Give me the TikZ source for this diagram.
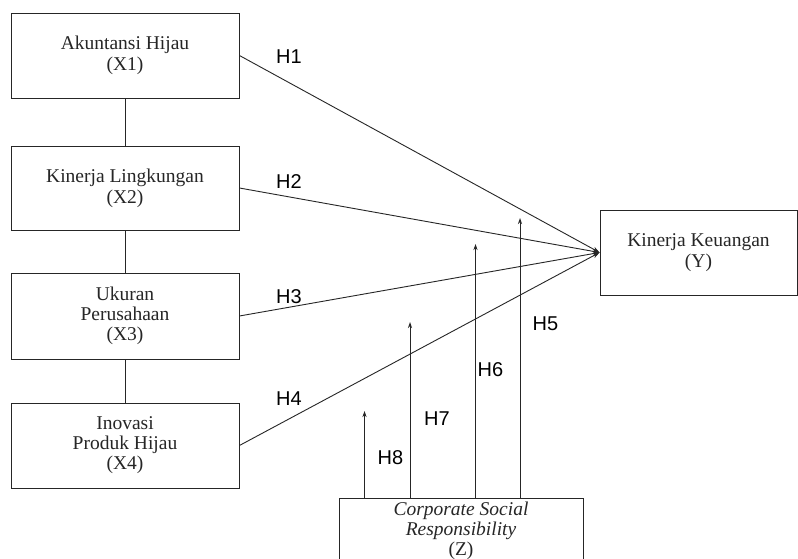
\documentclass[tikz,border=0pt]{standalone}
\usepackage{fontspec}
\setmainfont{Liberation Serif}
\newfontfamily\boxfont{Liberation Serif}
\newfontfamily\hfont{Liberation Sans}
\usetikzlibrary{arrows.meta}
\begin{document}
\begin{tikzpicture}[x=1pt,y=-1pt,
  box/.style={draw=black!85, line width=0.9pt, minimum width=228pt, minimum height=85pt, inner sep=0pt,
    align=center, font=\boxfont\fontsize{19.5}{21}\selectfont, text=black!85},
  link/.style={draw=black!85, line width=0.9pt},
  path/.style={draw=black!85, line width=0.9pt, -{Stealth[length=7pt,width=5pt]}},
  mod/.style={draw=black!85, line width=0.9pt, -{Stealth[length=6pt,width=4pt]}},
  hlab/.style={font=\hfont\fontsize{20}{20}\selectfont, text=black, inner sep=0pt}]
\clip (0,0) rectangle (798,559);
\useasboundingbox (0,0) rectangle (798,559);
\fill[white] (0,0) rectangle (798,559);
% boxes
\node[box] (X1) at (125,55.5) {Akuntansi Hijau\\(X1)};
\node[box, minimum height=84pt] (X2) at (125,188) {Kinerja Lingkungan\\(X2)};
\node[box, minimum height=86pt, font=\boxfont\fontsize{19.5}{20}\selectfont] (X3) at (125,316) {Ukuran\\Perusahaan\\(X3)};
\node[box, font=\boxfont\fontsize{19.5}{20}\selectfont] (X4) at (125,445.5) {Inovasi\\Produk Hijau\\(X4)};
\node[box, minimum width=197pt] (Y) at (698.5,252.5) {Kinerja Keuangan\\(Y)};
\node[box, minimum width=244pt, minimum height=102pt, anchor=north] (Z) at (461,498) {};
\node[box, draw=none, minimum width=0pt, minimum height=0pt, font=\boxfont\itshape\fontsize{19.5}{20}\selectfont] (Zt) at (461,531) {Corporate Social\\Responsibility\\{\upshape (Z)}};
% links between X boxes
\draw[link] (X1) -- (X2);
\draw[link] (X2) -- (X3);
\draw[link] (X3) -- (X4);
% paths to Y
\draw[path] (X1.east) -- (Y.west);
\draw[path] (X2.east) -- (Y.west);
\draw[path] (X3.east) -- (Y.west);
\draw[path] (X4.east) -- (Y.west);
% moderation arrows
\coordinate (t8) at (364.5,411);
\coordinate (t7) at (410,322);
\coordinate (t6) at (475.5,244);
\coordinate (t5) at (520,218);
\draw[mod] (t8 |- Z.north) -- (t8);
\draw[mod] (t7 |- Z.north) -- (t7);
\draw[mod] (t6 |- Z.north) -- (t6);
\draw[mod] (t5 |- Z.north) -- (t5);
% labels
\node[hlab] (H1) at (289,57) {H1};
\node[hlab] (H2) at (289,181.5) {H2};
\node[hlab] (H3) at (289,296.5) {H3};
\node[hlab] (H4) at (289,398.5) {H4};
\node[hlab] (H5) at (545.5,323.5) {H5};
\node[hlab] (H6) at (490.5,370) {H6};
\node[hlab] (H7) at (437,419) {H7};
\node[hlab] (H8) at (390.5,458) {H8};
\end{tikzpicture}
\end{document}
